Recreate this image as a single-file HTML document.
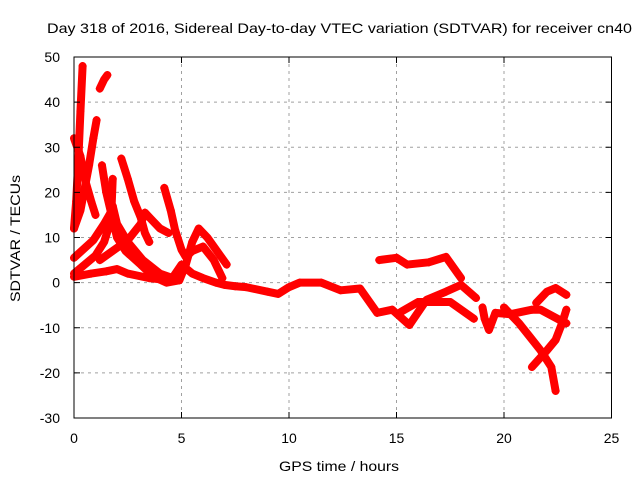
<!DOCTYPE html>
<html><head><meta charset="utf-8"><style>
html,body{margin:0;padding:0;background:#fff;}
svg{display:block;font-family:"Liberation Sans",sans-serif;}
</style></head><body>
<svg id="chart" width="640" height="480" viewBox="0 0 640 480">
<text x="47" y="33" font-size="14" textLength="585" lengthAdjust="spacingAndGlyphs">Day 318 of 2016, Sidereal Day-to-day VTEC variation (SDTVAR) for receiver cn40</text>
<text x="279" y="471" font-size="14" textLength="120" lengthAdjust="spacingAndGlyphs">GPS time / hours</text>
<text transform="translate(20,302) rotate(-90)" font-size="14" textLength="127" lengthAdjust="spacingAndGlyphs">SDTVAR / TECUs</text>
<g id="grid"></g><g id="marks"></g>
<rect x="74" y="57" width="537.5" height="361" fill="none" stroke="#000" stroke-width="1"/>
<g id="ticks"></g>
</svg>
<script>
const xTicks=[0,5,10,15,20,25];
const yTicks=[50,40,30,20,10,0,-10,-20,-30];
const trackA=[[0,12],[0.1,18],[0.2,27],[0.3,38],[0.4,48]];
const trackB=[[0,32],[0.3,28],[0.5,23],[0.8,18],[1.0,15]];
const trackC=[[0,12],[0.3,16],[0.5,21],[0.7,26],[0.9,32],[1.05,36]];
const trackD=[[1.2,43],[1.4,45],[1.55,46]];
const trackE=[[1.3,26],[1.5,20],[1.7,16],[2.0,10],[2.4,7],[3.1,4],[3.7,1.3],[4.3,0],[4.9,0.5],[5.2,4],[5.5,9],[5.8,12],[6.2,10],[6.8,6],[7.1,4]];
const trackF=[[2.2,27.5],[2.5,23],[2.8,18],[3.1,14.5],[3.3,11],[3.5,9]];
const trackG=[[1.8,23],[1.75,17],[1.6,12],[1.4,9],[1.0,6],[0.5,4],[0,2]];
const trackH=[[0,5.5],[0.9,9.4],[1.4,13],[1.7,15.5],[1.8,17],[2.0,13],[2.5,9],[3.2,5],[4.0,2],[4.6,1],[5.2,3]];
const trackI=[[1.2,5],[2.5,9.4],[3.1,13],[3.3,15.5],[3.6,14],[4.0,12],[4.4,11]];
const trackJ=[[4.2,21],[4.5,16],[4.7,11.7],[5.0,7.3],[5.2,5.7],[5.5,7],[6.0,8],[6.5,5],[6.9,1]];
const trackK=[[0,1.3],[0.8,2],[1.5,2.5],[2.0,3],[2.5,2],[3.5,1],[4.5,0.5],[5.0,4],[5.5,2],[6.0,1],[6.6,0],[7.0,-0.5],[7.5,-0.8],[8.0,-1],[9.0,-2],[9.5,-2.5],[10.0,-1],[10.5,0],[11.5,0],[12.4,-1.7],[13.3,-1.3],[14.1,-6.7],[14.8,-6],[15.6,-9.4],[16.4,-3.8],[17.3,-2],[18.0,-0.5],[18.7,-3.4]];
const trackL=[[14.2,5],[15,5.5],[15.5,4],[16.5,4.5],[17.3,5.7],[18,1]];
const trackM=[[15.2,-6.5],[16.0,-4.3],[17.5,-4.3],[18.6,-8]];
const trackN=[[19.0,-5.5],[19.1,-8],[19.3,-10.5],[19.6,-6.7],[20.3,-7],[21.3,-6],[21.7,-6],[22.6,-8.3],[22.9,-9]];
const trackO=[[21.5,-4.5],[22.0,-2],[22.4,-1.2],[22.9,-2.7]];
const trackP=[[20.0,-5.5],[20.7,-9],[21.2,-12],[21.7,-15],[22.2,-18.7],[22.4,-24]];
const trackQ=[[21.3,-18.7],[22.0,-15],[22.4,-12.7],[22.7,-9],[22.9,-6]];
const tracks=[trackA,trackB,trackC,trackD,trackE,trackF,trackG,trackH,trackI,trackJ,trackK,trackL,trackM,trackN,trackO,trackP,trackQ];
const X=h=>74+h*21.5;
const Y=v=>57+(50-v)*4.5125;
const NS='http://www.w3.org/2000/svg';
const grid=document.getElementById('grid'),ticks=document.getElementById('ticks'),marks=document.getElementById('marks');
function mk(tag,attrs,parent){const e=document.createElementNS(NS,tag);for(const k in attrs)e.setAttribute(k,attrs[k]);parent.appendChild(e);return e;}
xTicks.forEach(t=>{
 if(t>0&&t<25){const g=mk('line',{x1:X(t),x2:X(t),y1:57,y2:418,stroke:'#a0a0a0','stroke-dasharray':'3,4'},grid);
 
 }
 mk('line',{x1:X(t),x2:X(t),y1:418,y2:412,stroke:'#000'},ticks);
 mk('line',{x1:X(t),x2:X(t),y1:57,y2:63,stroke:'#000'},ticks);
 const l=mk('text',{x:X(t),y:443,'font-size':14,'text-anchor':'middle'},ticks);l.textContent=t;
 
 
});
yTicks.forEach(t=>{
 if(t<50&&t>-30){const g=mk('line',{x1:74,x2:611.5,y1:Y(t),y2:Y(t),stroke:'#a0a0a0','stroke-dasharray':'3,4'},grid);
 
 }
 mk('line',{x1:74,x2:80,y1:Y(t),y2:Y(t),stroke:'#000'},ticks);
 mk('line',{x1:605.5,x2:611.5,y1:Y(t),y2:Y(t),stroke:'#000'},ticks);
 const l=mk('text',{x:60,y:Y(t)+5,'font-size':14,'text-anchor':'end'},ticks);l.textContent=t;
 
 
});
tracks.forEach((tr,i)=>{
 const pl=mk('polyline',{points:tr.map(p=>X(p[0])+','+Y(p[1])).join(' '),fill:'none',stroke:'#f00','stroke-width':8,'stroke-linejoin':'round','stroke-linecap':'round'},marks);
 
 
 tr.forEach(p=>{
  const m=mk('path',{d:`M${X(p[0])-4},${Y(p[1])}h8M${X(p[0])},${Y(p[1])-4}v8`,stroke:'#f00','stroke-width':1.5},marks);
  
  
 });
});
</script>
</body></html>
